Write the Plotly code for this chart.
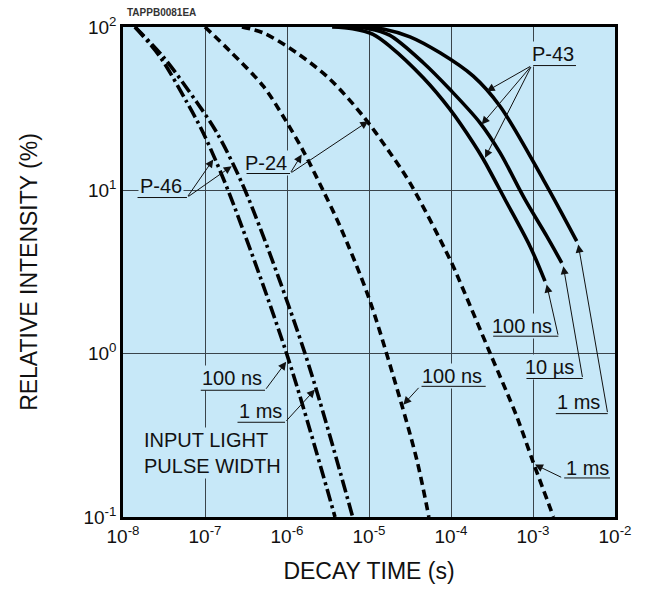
import plotly.graph_objects as go

# ---------------- data (decay time in s, relative intensity in %) ----------------
# P-46 (dash-dot)
p46_100ns_t = [1.40e-8, 2.82e-8, 6.03e-8, 9.46e-8, 1.91e-7, 9.9e-7, 3.85e-6]
p46_100ns_i = [100, 65.9, 34.5, 22.6, 10, 1.0, 0.1]
p46_1ms_t = [1.40e-8, 3.08e-8, 7.98e-8, 1.39e-7, 3.08e-7, 1.66e-6, 6.32e-6]
p46_1ms_i = [100, 65.9, 34.5, 22.6, 10, 1.0, 0.1]

# P-24 (dashed)
p24_100ns_t = [1.0e-7, 2.02e-7, 5.14e-7, 9.46e-7, 1.58e-6, 2.75e-6, 4.43e-6,
               9.79e-6, 1.98e-5, 3.82e-5, 5.37e-5]
p24_100ns_i = [100, 71.1, 43.4, 27.2, 17.4, 10, 6.03, 2.25, 0.728, 0.225, 0.1]
p24_1ms_t = [2.82e-7, 5.14e-7, 1.31e-6, 3.34e-6, 8.51e-6, 1.80e-5, 3.16e-5,
             9.73e-5, 1.41e-4, 2.99e-4, 6.32e-4, 1.01e-3, 1.78e-3]
p24_1ms_i = [100, 92.0, 69.5, 47.9, 28.4, 17.0, 11.1, 3.77, 2.47, 1.01, 0.414, 0.215, 0.1]

# P-43 (solid)
p43_100ns_t = [3.55e-6, 6.31e-6, 1.12e-5, 1.80e-5, 4.59e-5, 9.73e-5, 1.87e-4, 2.48e-4,
               4.56e-4, 9.18e-4, 1.40e-3]
p43_100ns_i = [100, 97.7, 90.2, 76.2, 48.9, 31.3, 19.5, 15.5, 8.79, 4.55, 2.78]
p43_10us_t = [5.01e-6, 1.0e-5, 1.78e-5, 4.59e-5, 9.73e-5, 2.26e-4, 3.96e-4, 7.98e-4, 1.47e-3, 2.24e-3]
p43_10us_i = [100, 97.7, 89.1, 60.4, 41.4, 25.9, 17.0, 8.79, 5.24, 3.6]
p43_1ms_t = [7.94e-6, 1.58e-5, 3.16e-5, 7.35e-5, 1.87e-4, 3.96e-4, 1.34e-3, 3.41e-3]
p43_1ms_i = [100, 96.6, 87.1, 69.5, 50.0, 32.7, 11.6, 4.89]

x_tick_vals = [1e-8, 1e-7, 1e-6, 1e-5, 1e-4, 1e-3, 1e-2]
x_tick_text = ["10<sup>-8</sup>", "10<sup>-7</sup>", "10<sup>-6</sup>", "10<sup>-5</sup>",
               "10<sup>-4</sup>", "10<sup>-3</sup>", "10<sup>-2</sup>"]
y_tick_vals = [0.1, 1, 10, 100]
y_tick_text = ["10<sup>-1</sup>", "10<sup>0</sup>", "10<sup>1</sup>", "10<sup>2</sup>"]

# ---------------- styling ----------------
FONT = "Liberation Sans, Arial, Helvetica, sans-serif"
BG = "#c7e8f8"
GRID = "#3a444b"
LW = 3.6
DASH = "8px,5px"
DASHDOT = "13px,4px,3px,4px"

series = [
    (p46_100ns_t, p46_100ns_i, DASHDOT, "P-46 100 ns"),
    (p46_1ms_t, p46_1ms_i, DASHDOT, "P-46 1 ms"),
    (p24_100ns_t, p24_100ns_i, DASH, "P-24 100 ns"),
    (p24_1ms_t, p24_1ms_i, DASH, "P-24 1 ms"),
    (p43_100ns_t, p43_100ns_i, "solid", "P-43 100 ns"),
    (p43_10us_t, p43_10us_i, "solid", "P-43 10 µs"),
    (p43_1ms_t, p43_1ms_i, "solid", "P-43 1 ms"),
]

fig = go.Figure()
for t, i, dash, name in series:
    fig.add_trace(go.Scatter(
        x=t, y=i, mode="lines", name=name,
        line=dict(color="black", width=LW, dash=dash, shape="spline", smoothing=0.9),
        showlegend=False, hoverinfo="skip",
    ))

annotations = []


def label(text, lx, ly, **kw):
    d = dict(x=lx, y=ly, xref="x", yref="y", text=text, showarrow=False,
             font=dict(family=FONT, size=20, color="#111"), bgcolor=BG, borderpad=1)
    d.update(kw)
    annotations.append(d)


def seg(x0, y0, x1, y1, head=True):
    annotations.append(dict(
        x=x1, y=y1, ax=x0, ay=y0, xref="x", yref="y", axref="x", ayref="y",
        text="", showarrow=True, arrowhead=2 if head else 0, arrowsize=1.6,
        arrowwidth=1, arrowcolor="#111", standoff=0, startstandoff=0,
    ))


# text labels (log10 coordinates)
label("P-46", -7.537, 1.029)
label("P-24", -6.256, 1.170)
label("P-43", -2.756, 1.832)
label("100 ns", -3.138, 0.172)
label("10 µs", -2.793, -0.079)
label("1 ms", -2.451, -0.293)
label("100 ns", -3.988, -0.134)
label("1 ms", -2.341, -0.697)
label("100 ns", -6.671, -0.152)
label("1 ms", -6.329, -0.348)
label("INPUT LIGHT<br>PULSE WIDTH", -7.772, -0.606, xanchor="left", align="left")

# underlines
seg(-7.841, 0.956, -7.220, 0.956, head=False)
seg(-6.512, 1.103, -5.963, 1.103, head=False)
seg(-3.016, 1.764, -2.476, 1.764, head=False)
seg(-3.504, 0.107, -2.691, 0.107, head=False)
seg(-3.098, -0.152, -2.394, -0.152, head=False)
seg(-2.740, -0.367, -2.089, -0.367, head=False)
seg(-4.378, -0.200, -3.577, -0.200, head=False)
seg(-2.638, -0.761, -2.061, -0.761, head=False)
seg(-7.070, -0.224, -6.268, -0.224, head=False)
seg(-6.622, -0.420, -6.024, -0.420, head=False)

# arrows
seg(-7.220, 0.956, -6.899, 1.189)
seg(-7.220, 0.956, -6.674, 1.148)
seg(-5.963, 1.103, -5.821, 1.219)
seg(-5.963, 1.103, -5.009, 1.423)
seg(-3.016, 1.764, -3.565, 1.607)
seg(-3.016, 1.764, -3.626, 1.403)
seg(-3.016, 1.764, -3.585, 1.199)
seg(-2.691, 0.107, -2.833, 0.423)
seg(-2.394, -0.152, -2.630, 0.535)
seg(-2.089, -0.367, -2.448, 0.668)
seg(-4.378, -0.200, -4.582, -0.312)
seg(-2.638, -0.761, -2.976, -0.679)
seg(-6.268, -0.224, -6.010, -0.050)
seg(-6.024, -0.420, -5.659, -0.220)

annotations.append(dict(
    x=0.004, y=1.03, xref="paper", yref="paper", xanchor="left", yanchor="middle",
    text="<b>TAPPB0081EA</b>", showarrow=False,
    font=dict(family=FONT, size=10, color="#333"),
))

axis_common = dict(
    type="log", showgrid=True, gridcolor=GRID, gridwidth=1,
    showline=True, linecolor="black", linewidth=2.5, mirror=True,
    ticks="", zeroline=False, automargin=False,
    tickfont=dict(family=FONT, size=19, color="#111"),
)

# the page body has an 8px default margin, so the figure is sized/offset for it
fig.update_layout(
    width=637, height=599,
    margin=dict(l=115, r=30, t=19, b=90, autoexpand=False),
    paper_bgcolor="white", plot_bgcolor=BG,
    xaxis=dict(range=[-8, -2], tickvals=x_tick_vals, ticktext=x_tick_text,
               title=dict(text="DECAY TIME (s)", font=dict(family=FONT, size=23, color="#111"),
                          standoff=18),
               **axis_common),
    yaxis=dict(range=[-1, 2], tickvals=y_tick_vals, ticktext=y_tick_text,
               title=dict(text="RELATIVE INTENSITY (%)", font=dict(family=FONT, size=23, color="#111"),
                          standoff=40),
               **axis_common),
    annotations=annotations,
    showlegend=False,
)

fig.write_html("out.html")
